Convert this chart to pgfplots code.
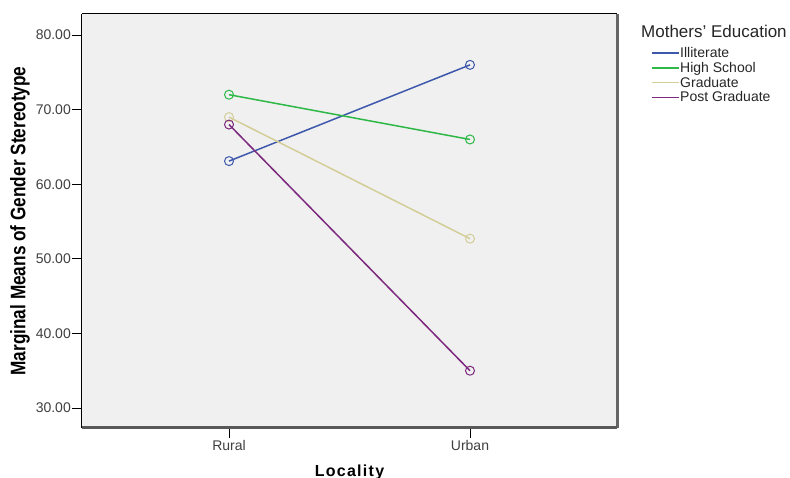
\documentclass[border=0pt]{standalone}
\usepackage{fontspec}
\setmainfont{Liberation Sans}
\newfontfamily\narrowfont[FakeStretch=0.82]{Liberation Sans}
\newfontfamily\spacedfont[LetterSpace=8]{Liberation Sans}
\usepackage{pgfplots}
\pgfplotsset{compat=1.18}
\definecolor{cIll}{HTML}{3E58AC}
\definecolor{cHS}{HTML}{2EB848}
\definecolor{cGr}{HTML}{D3CE97}
\definecolor{cPG}{HTML}{7C287D}
\definecolor{bg}{HTML}{F0F0F0}
\begin{document}
\begin{tikzpicture}[x=1pt,y=1pt]
\useasboundingbox[fill=white] (-82,-50) rectangle (708,428);
\begin{axis}[
  scale only axis,
  width=535pt, height=414pt,
  xmin=-0.61, xmax=1.61,
  ymin=27.32, ymax=82.82,
  xtick={0,1}, xticklabels={Rural,Urban},
  ytick={30,40,50,60,70,80},
  axis background/.style={fill=bg},
  axis line style={black, line width=1pt},
  tick align=outside,
  major tick length=10pt,
  xtick style={black, line width=0.8pt},
  ytick style={black, line width=0.8pt},
  xmajorgrids=false, ymajorgrids=false,
  axis x line*=bottom, axis y line*=left,
  /pgf/number format/assume math mode=true,
  yticklabel={\pgfmathprintnumber[fixed,fixed zerofill,precision=2]{\tick}},
  ticklabel style={font=\fontsize{14}{15}\selectfont, text=black!75},
  yticklabel style={inner sep=0pt, xshift=-1pt},
  xticklabel style={inner sep=0pt, yshift=-2pt},
  xlabel={\spacedfont\bfseries Locality},
  xlabel style={font=\fontsize{16}{18}\selectfont, at={(axis description cs:0.5,0)}, anchor=center, yshift=-44pt},
  ylabel={\narrowfont\bfseries Marginal Means of Gender Stereotype},
  ylabel style={font=\fontsize{21}{23}\selectfont, at={(axis description cs:-0.1159,0.5)}, anchor=center},
  legend style={at={(axis description cs:1.0636,0.922)}, anchor=north west, draw=none, fill=none,
    font=\fontsize{14}{15}\selectfont, row sep=2.3pt, inner sep=0pt,
    nodes={inner sep=0.5pt, text=black!85}},
  legend cell align=left,
  legend image code/.code={\draw[#1, line width=1.5pt] (0,0) -- (27pt,0);},
  clip=false,
]
\addplot[cIll, line width=1.5pt, mark=o, mark size=4.5pt, mark options={line width=1pt}] coordinates {(0,63.1) (1,76.0)};
\addplot[cHS, line width=1.5pt, mark=o, mark size=4.5pt, mark options={line width=1pt}] coordinates {(0,72.0) (1,66.0)};
\addplot[cGr, line width=1.5pt, mark=o, mark size=4.5pt, mark options={line width=1pt}] coordinates {(0,69.0) (1,52.7)};
\addplot[cPG, line width=1.5pt, mark=o, mark size=4.5pt, mark options={line width=1pt}] coordinates {(0,68.0) (1,35.0)};
\legend{Illiterate,High School,Graduate,Post Graduate}
\draw[black, line width=1pt] (rel axis cs:0,1) -- (rel axis cs:1,1);
\draw[black!60, line width=3pt] (rel axis cs:1,1) -- (rel axis cs:1,0);
\draw[black!65, line width=3pt] (rel axis cs:0,0) -- (rel axis cs:1,0);
\node[anchor=west, font=\fontsize{17}{19}\selectfont, text=black!85, inner sep=0pt] at ([xshift=24pt]rel axis cs:1,0.959) {Mothers' Education};
\end{axis}
\end{tikzpicture}
\end{document}
